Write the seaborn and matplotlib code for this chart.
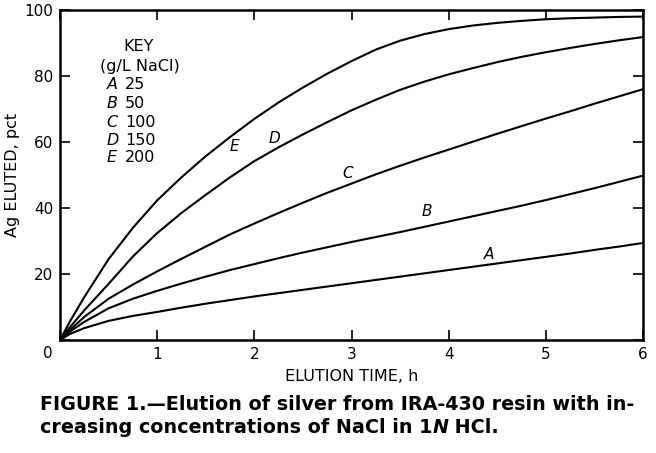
import matplotlib
matplotlib.use("Agg")
import matplotlib.pyplot as plt
import seaborn as sns
import pandas as pd

# ---- data ----
time_h = [0, 0.1, 0.25, 0.5, 0.75, 1, 1.25, 1.5, 1.75, 2, 2.25, 2.5, 2.75, 3,
          3.25, 3.5, 3.75, 4, 4.25, 4.5, 4.75, 5, 5.25, 5.5, 5.75, 6]
curve_A = [0, 1.8, 3.6, 5.8, 7.3, 8.5, 9.8, 11.0, 12.1, 13.2, 14.2, 15.2, 16.2, 17.2,
           18.2, 19.2, 20.2, 21.2, 22.2, 23.2, 24.2, 25.2, 26.2, 27.3, 28.3, 29.4]
curve_B = [0, 2.5, 5.5, 9.6, 12.5, 14.9, 17.1, 19.2, 21.2, 23.0, 24.8, 26.5, 28.1, 29.7,
           31.2, 32.7, 34.3, 35.9, 37.5, 39.1, 40.7, 42.4, 44.2, 46.0, 47.9, 49.8]
curve_C = [0, 3.0, 7.0, 12.5, 16.8, 20.8, 24.6, 28.3, 32.0, 35.3, 38.5, 41.6, 44.6, 47.4,
           50.2, 52.8, 55.3, 57.7, 60.1, 62.5, 64.8, 67.1, 69.3, 71.6, 73.8, 76.0]
curve_D = [0, 3.8, 9.0, 17.0, 25.3, 32.4, 38.5, 44.0, 49.3, 54.2, 58.4, 62.3, 66.0, 69.6,
           72.8, 75.8, 78.3, 80.5, 82.4, 84.2, 85.8, 87.2, 88.5, 89.7, 90.8, 91.8]
curve_E = [0, 5.5, 13.0, 24.5, 34.0, 42.3, 49.3, 55.7, 61.5, 67.0, 72.0, 76.5, 80.7, 84.5,
           88.0, 90.7, 92.7, 94.2, 95.3, 96.1, 96.7, 97.2, 97.5, 97.7, 97.9, 98.0]
series_names = ["A", "B", "C", "D", "E"]
nacl_gL = ["25", "50", "100", "150", "200"]
x_ticks = [0, 1, 2, 3, 4, 5, 6]
x_tick_labels = ["", "1", "2", "3", "4", "5", "6"]
y_ticks = [0, 20, 40, 60, 80, 100]
y_tick_labels = ["", "20", "40", "60", "80", "100"]
label_pos = {"A": (4.42, 26.0), "B": (3.78, 38.8), "C": (2.96, 50.6),
             "D": (2.21, 61.2), "E": (1.80, 58.5)}

curves = [curve_A, curve_B, curve_C, curve_D, curve_E]
df = pd.DataFrame({
    "t": time_h * len(series_names),
    "v": sum(curves, []),
    "s": [n for n in series_names for _ in time_h],
})

sns.set_theme(style="white")
FONT = ["DejaVu Sans"]
plt.rcParams["font.family"] = FONT

fig = plt.figure(figsize=(6.56, 4.53), dpi=100)
ax = fig.add_axes([60 / 656, 1 - 340 / 453, 583 / 656, 330 / 453])

sns.lineplot(data=df, x="t", y="v", hue="s", palette=["black"] * 5,
             linewidth=1.5, legend=False, ax=ax)

ax.set_xlim(0, 6)
ax.set_ylim(0, 100)
ax.set_xticks(x_ticks)
ax.set_xticklabels(x_tick_labels)
ax.set_yticks(y_ticks)
ax.set_yticklabels(y_tick_labels)
ax.tick_params(direction="in", length=7, width=1.2, color="black",
               labelsize=11, labelcolor="black", top=True, right=True,
               bottom=True, left=True, pad=5)
for sp in ax.spines.values():
    sp.set_visible(True)
    sp.set_color("black")
    sp.set_linewidth(1.8)

ax.set_xlabel("ELUTION TIME, h", fontsize=11.5, color="black", labelpad=5)
ax.set_ylabel("Ag ELUTED, pct", fontsize=11.5, color="black", labelpad=3)

# shared origin label
ax.annotate("0", xy=(0, 0), xytext=(-12, -13), textcoords="offset pixels",
            ha="center", va="center", fontsize=11, color="black")

# curve labels
for name in series_names:
    x, y = label_pos[name]
    ax.text(x, y, name, fontsize=11, style="italic", ha="center", va="center",
            color="black")

# key
ax.text(0.81, 88.8, "KEY", fontsize=11.5, ha="center", va="center", color="black")
ax.text(0.82, 83.0, "(g/L NaCl)", fontsize=11.5, ha="center", va="center", color="black")
row_v = [77.3, 71.8, 66.0, 60.6, 55.2]
for name, conc, v in zip(series_names, nacl_gL, row_v):
    ax.text(0.48, v, name, fontsize=11.5, style="italic", ha="left", va="center",
            color="black")
    ax.text(0.67, v, conc, fontsize=11.5, ha="left", va="center", color="black")

# caption
cap1 = fig.text(40 / 656, 1 - 410 / 453,
                "FIGURE 1.\u2014Elution of silver from IRA-430 resin with in-",
                fontsize=13.75, fontweight="bold", color="black", ha="left",
                va="baseline")
p1 = fig.text(40 / 656, 1 - 433 / 453, "creasing concentrations of NaCl in 1",
              fontsize=13.75, fontweight="bold", color="black", ha="left",
              va="baseline")
p2 = ax.annotate("N", xy=(1, 0), xycoords=p1, xytext=(0, 0),
                 textcoords="offset points", fontsize=13.75, fontweight="bold",
                 style="italic", color="black", ha="left", va="bottom")
ax.annotate(" HCl.", xy=(1, 0), xycoords=p2, fontsize=13.75, fontweight="bold",
            color="black", ha="left", va="bottom")

fig.savefig("out.png", dpi=100, facecolor="white")
